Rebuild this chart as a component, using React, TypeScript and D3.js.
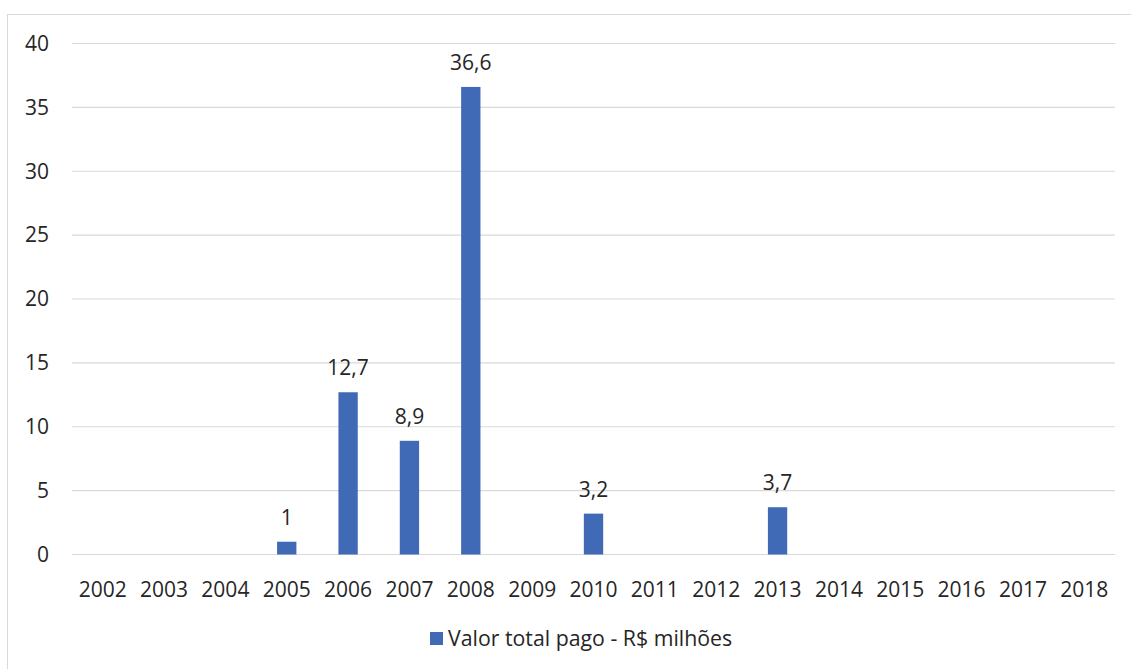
import React from "react";
import * as d3 from "d3";

const years = ["2002","2003","2004","2005","2006","2007","2008","2009","2010","2011","2012","2013","2014","2015","2016","2017","2018"];
const values = [0,0,0,1,12.7,8.9,36.6,0,3.2,0,0,3.7,0,0,0,0,0];
const yTicks = [0,5,10,15,20,25,30,35,40];
const seriesName = "Valor total pago - R$ milhões";

const W = 1131, H = 669;
const left = 72, right = 1115, top = 43.5, bottom = 554.5;
const font = "'Open Sans', sans-serif";
const textColor = "#262626";
const barColor = "#416AB6";

export default function App() {
  const x = d3.scaleBand<string>().domain(years).range([left, right]).paddingInner(0.685).paddingOuter(0.3425);
  const y = d3.scaleLinear().domain([0, 40]).range([bottom, top]);
  const fmt = (v: number) => String(v).replace(".", ",");
  return (
    <svg width={W} height={H} style={{ position: "absolute", left: 0, top: 0 }} fontFamily={font}>
      <rect x={0} y={0} width={W} height={H} fill="#fff" />
      <rect x={7.5} y={14.5} width={W + 10} height={H + 10} fill="none" stroke="#d9d9d9" strokeWidth={1} />
      {yTicks.map((t) => (
        <g key={t}>
          <line x1={left} x2={right} y1={y(t)} y2={y(t)} stroke="#d9d9d9" strokeWidth={1.2} />
          <text x={49} y={y(t)} dy="0.35em" textAnchor="end" fontSize={21} fill={textColor}>{t}</text>
        </g>
      ))}
      {years.map((yr, i) => {
        const v = values[i];
        const cx = x(yr)! + x.bandwidth() / 2;
        return (
          <g key={yr}>
            {v > 0 && (
              <>
                <rect x={x(yr)} y={y(v)} width={x.bandwidth()} height={y(0) - y(v)} fill={barColor} />
                <text x={cx} y={y(v) - 17} textAnchor="middle" fontSize={21} fill={textColor}>{fmt(v)}</text>
              </>
            )}
            <text x={cx} y={y(0) + 42} textAnchor="middle" fontSize={21} fill={textColor}>{yr}</text>
          </g>
        );
      })}
      <rect x={430} y={632} width={13} height={13} fill={barColor} />
      <text x={448} y={639} dy="0.35em" fontSize={21.3} fill={textColor}>{seriesName}</text>
    </svg>
  );
}
